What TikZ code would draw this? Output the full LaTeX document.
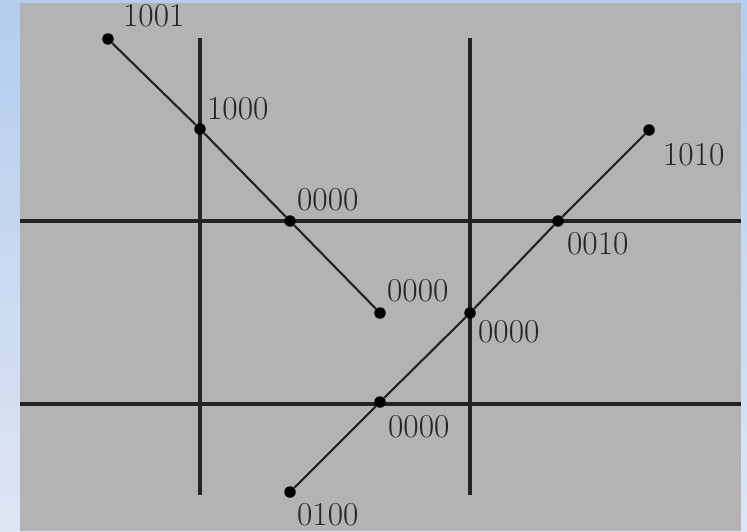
\documentclass[tikz,border=0pt]{standalone}
\usetikzlibrary{positioning}

\definecolor{skytop}{RGB}{178,205,238}
\definecolor{skybot}{RGB}{222,229,242}
\definecolor{panel}{RGB}{179,179,179}
\definecolor{ink}{RGB}{35,35,35}

\tikzset{
    dot/.style={circle, fill=black, inner sep=0pt, minimum size=0.23cm},
    code/.style={inner sep=0pt, font=\fontsize{19}{20}\selectfont, text=black!85},
    axis/.style={ink, line width=2pt},
    path/.style={ink, line width=1.2pt}
}

\begin{document}
\begin{tikzpicture}[x=0.02cm, y=-0.02cm]
    \useasboundingbox (0,0) rectangle (747,531);
    \shade[top color=skytop, bottom color=skybot] (0,0) rectangle (747,531);
    \fill[panel] (20,3) rectangle (741,531);

    % grid lines
    \coordinate (v1t) at (200,38);
    \coordinate (v1b) at (200,495);
    \coordinate (v2t) at (470,38);
    \coordinate (v2b) at (470,495);
    \coordinate (h1l) at (20,221);
    \coordinate (h1r) at (741,221);
    \coordinate (h2l) at (20,404);
    \coordinate (h2r) at (741,404);
    \draw[axis] (v1t) -- (v1b);
    \draw[axis] (v2t) -- (v2b);
    \draw[axis] (h1l) -- (h1r);
    \draw[axis] (h2l) -- (h2r);

    % first segment
    \node[dot] (p1001) at (108,39) {};
    \node[dot] (p1000) at (200,129) {};
    \node[dot] (p0000a) at (290,221) {};
    \node[dot] (p0000b) at (380,313) {};

    % second segment
    \node[dot] (p0100) at (290,492) {};
    \node[dot] (p0000d) at (380,402) {};
    \node[dot] (p0000c) at (470,313) {};
    \node[dot] (p0010) at (558,221) {};
    \node[dot] (p1010) at (649,130) {};

    \draw[path] (p1001) -- (p1000) -- (p0000a) -- (p0000b);
    \draw[path] (p0100) -- (p0000d) -- (p0000c) -- (p0010) -- (p1010);

    % codes
    \node[code, above right=0.15cm and 0.21cm of p1001] (t1001) {1001};
    \node[code, above right=0.08cm and 0.05cm of p1000] (t1000) {1000};
    \node[code, above right=0.10cm and 0.05cm of p0000a] (t0000a) {0000};
    \node[code, above right=0.12cm and 0.05cm of p0000b] (t0000b) {0000};
    \node[code, below right=0.06cm and 0.07cm of p0000c] (t0000c) {0000};
    \node[code, below right=0.14cm and 0.09cm of p0010] (t0010) {0010};
    \node[code, below right=0.18cm and 0.19cm of p1010] (t1010) {1010};
    \node[code, below right=0.18cm and 0.07cm of p0000d] (t0000d) {0000};
    \node[code, below right=0.14cm and 0.05cm of p0100] (t0100) {0100};
\end{tikzpicture}
\end{document}
